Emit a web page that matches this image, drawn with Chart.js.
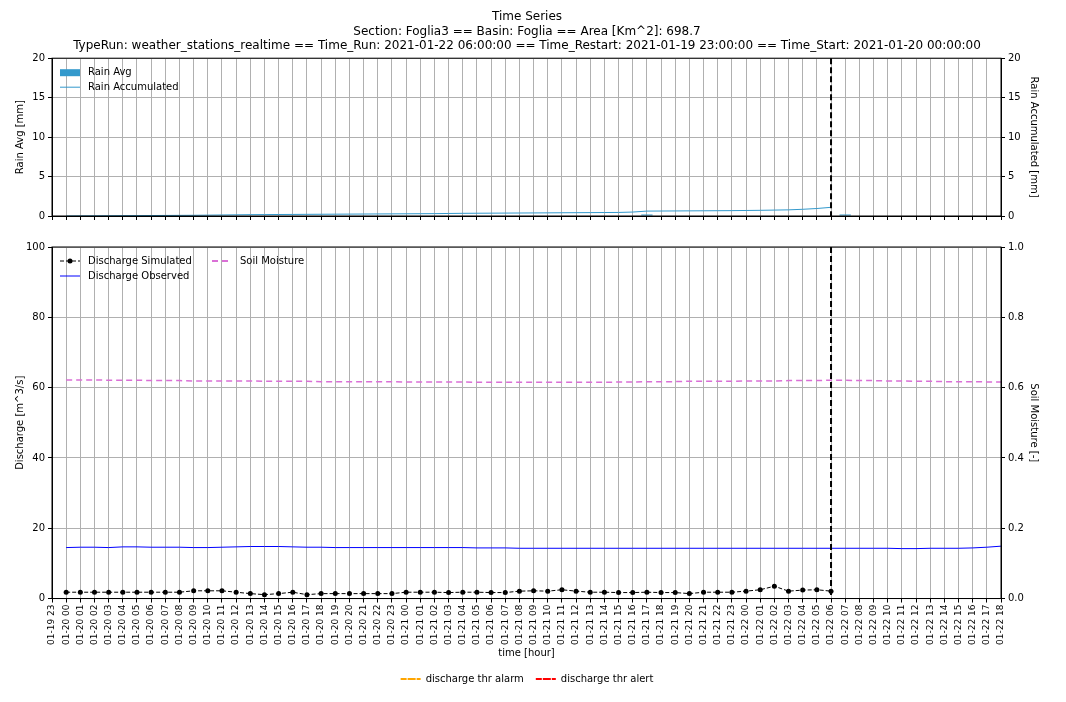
<!DOCTYPE html>
<html>
<head>
<meta charset="utf-8">
<script src="https://cdn.jsdelivr.net/npm/chart.js@4.4.0/dist/chart.umd.min.js"></script>
<style>
  body { margin: 0; background: #fff; }
  #wrap { position: relative; width: 1066px; height: 702px; }
  #top { position: absolute; left: 0; top: 0; }
  #bottom { position: absolute; left: 0; top: 232px; }
</style>
</head>
<body>
<div id="wrap">
  <canvas id="top" width="1066" height="232"></canvas>
  <canvas id="bottom" width="1066" height="470"></canvas>
</div>
<script>
// time axis: 01-19 23 -> 01-22 18, hourly
const days = ['01-19', '01-20', '01-21', '01-22'];
const timeLabels = ['01-19 23'];
for (let d = 1; d < days.length; d++) {
    const last = d === 3 ? 18 : 23;
    for (let h = 0; h <= last; h++) timeLabels.push(days[d] + ' ' + String(h).padStart(2, '0'));
}
const runIndex = 55; // 01-22 06

const rainAvg = [null,0,0,0,0,0,0,0,0,0,0,0,0,0,0,0,0,0,0,0,0,0,0,0,0,0,0,0,0,0,0,0,0,0,0,0,0,0,0,0,0,0,0.2,0,0,0,0,0,0,0,0,0,0,0,0,0,0.2];
const rainAccum = [null,0,0.01,0.02,0.03,0.04,0.05,0.06,0.07,0.08,0.09,0.11,0.13,0.15,0.17,0.18,0.19,0.2,0.21,0.22,0.23,0.24,0.25,0.26,0.27,0.28,0.29,0.3,0.32,0.34,0.35,0.36,0.37,0.38,0.39,0.4,0.41,0.42,0.43,0.44,0.45,0.5,0.62,0.63,0.64,0.65,0.66,0.67,0.68,0.7,0.72,0.75,0.78,0.85,0.95,1.1];

const dischargeSim = [null,
  1.8,1.8,1.8,1.8,1.8,1.8,1.8,1.8,1.8,2.2,2.2,2.2,1.8,1.4,1.1,1.4,1.8,1.1,1.4,1.4,1.4,1.4,1.4,1.4,
  1.8,1.8,1.8,1.7,1.8,1.8,1.7,1.7,2.1,2.2,2.1,2.5,2.1,1.8,1.8,1.7,1.7,1.8,1.7,1.7,1.4,1.8,1.8,1.8,
  2.1,2.5,3.5,2.1,2.4,2.5,2.1];
const dischargeObs = [null,
  14.5,14.6,14.6,14.5,14.7,14.7,14.6,14.6,14.6,14.5,14.5,14.6,14.7,14.8,14.8,14.8,14.7,14.6,14.6,14.5,14.5,14.5,14.5,14.5,
  14.5,14.5,14.5,14.5,14.5,14.4,14.4,14.4,14.3,14.3,14.3,14.3,14.3,14.3,14.3,14.3,14.3,14.3,14.3,14.3,14.3,14.3,14.3,14.3,
  14.3,14.3,14.3,14.3,14.3,14.3,14.3,14.3,14.3,14.3,14.3,14.2,14.2,14.3,14.3,14.3,14.4,14.6,14.9];
const soilMoisture = [null,
  0.622,0.622,0.622,0.621,0.621,0.621,0.620,0.620,0.620,0.619,0.619,0.619,0.619,0.619,0.618,0.618,0.618,0.618,0.617,0.617,0.617,0.617,0.617,0.617,
  0.616,0.616,0.616,0.616,0.616,0.615,0.615,0.615,0.615,0.615,0.615,0.615,0.615,0.615,0.615,0.616,0.616,0.617,0.617,0.617,0.618,0.618,0.618,0.618,
  0.619,0.619,0.619,0.620,0.620,0.620,0.621,0.621,0.620,0.620,0.619,0.619,0.618,0.618,0.617,0.617,0.617,0.616,0.616];

const rainTicks = [0, 5, 10, 15, 20];
const dischargeTicks = [0, 20, 40, 60, 80, 100];

Chart.defaults.font.family = 'DejaVu Sans';
Chart.defaults.font.size = 10;
Chart.defaults.color = '#000';
Chart.defaults.animation = false;

const gridStyle = { color: '#b0b0b0', lineWidth: 1, tickColor: '#000', tickLength: 4 };
const leftPad = 12, rightPad = 24;
const leftWidth = 40, rightWidth = 41;

const runLine = {
    id: 'runLine',
    afterDatasetsDraw(chart) {
        const x = chart.scales.x.getPixelForValue(runIndex);
        const a = chart.chartArea, ctx = chart.ctx;
        ctx.save();
        ctx.strokeStyle = '#000'; ctx.lineWidth = 2; ctx.setLineDash([6, 3]);
        ctx.beginPath(); ctx.moveTo(x, a.top); ctx.lineTo(x, a.bottom); ctx.stroke();
        ctx.restore();
        ctx.save();
        ctx.strokeStyle = '#000'; ctx.lineWidth = 1;
        ctx.strokeRect(a.left, a.top, a.right - a.left, a.bottom - a.top);
        ctx.restore();
    }
};

// inner legend drawn in the plot corner
function innerLegend(columns) {
    return {
        id: 'innerLegend',
        afterDraw(chart) {
            const ctx = chart.ctx, a = chart.chartArea;
            ctx.save();
            ctx.font = '10px DejaVu Sans'; ctx.fillStyle = '#000'; ctx.textBaseline = 'middle';
            columns.forEach(col => {
                col.items.forEach((it, i) => {
                    const x = a.left + col.dx, y = a.top + 14 + i * 15;
                    if (it.type === 'bar') {
                        ctx.fillStyle = it.color; ctx.fillRect(x, y - 3, 20, 7);
                    } else {
                        ctx.strokeStyle = it.color; ctx.lineWidth = it.width || 1;
                        ctx.setLineDash(it.dash || []);
                        ctx.beginPath(); ctx.moveTo(x, y); ctx.lineTo(x + 20, y); ctx.stroke();
                        ctx.setLineDash([]);
                        if (it.dot) { ctx.fillStyle = it.color; ctx.beginPath(); ctx.arc(x + 10, y, 2.5, 0, Math.PI * 2); ctx.fill(); }
                    }
                    ctx.fillStyle = '#000';
                    ctx.fillText(it.text, x + 28, y);
                });
            });
            ctx.restore();
        }
    };
}

new Chart(document.getElementById('top'), {
    data: {
        labels: timeLabels,
        datasets: [
            { type: 'bar', label: 'Rain Avg', data: rainAvg, backgroundColor: '#3399cc', yAxisID: 'y', categoryPercentage: 1, barPercentage: 0.8 },
            { type: 'line', label: 'Rain Accumulated', data: rainAccum, borderColor: '#3399cc', borderWidth: 1, pointRadius: 0, yAxisID: 'y2' }
        ]
    },
    options: {
        responsive: false,
        layout: { padding: { left: leftPad, right: rightPad, top: 0, bottom: 12 } },
        plugins: {
            legend: { display: false },
            tooltip: { enabled: false },
            title: {
                display: true,
                text: ['Time Series', 'Section: Foglia3 == Basin: Foglia == Area [Km^2]: 698.7',
                       'TypeRun: weather_stations_realtime == Time_Run: 2021-01-22 06:00:00 == Time_Restart: 2021-01-19 23:00:00 == Time_Start: 2021-01-20 00:00:00'],
                font: { size: 12, weight: 'normal' }, color: '#000', padding: { top: 10, bottom: 5 }, lineHeight: 1.2
            }
        },
        scales: {
            x: { offset: false, grid: { ...gridStyle, offset: false }, border: { color: '#000' }, ticks: { display: false } },
            y: {
                position: 'left', min: 0, max: 20, afterBuildTicks: s => { s.ticks = rainTicks.map(v => ({ value: v })); },
                grid: gridStyle, border: { color: '#000' },
                title: { display: true, text: 'Rain Avg [mm]', padding: 2 },
                afterFit: s => { s.width = leftWidth; }
            },
            y2: {
                position: 'right', min: 0, max: 20, afterBuildTicks: s => { s.ticks = rainTicks.map(v => ({ value: v })); },
                grid: { drawOnChartArea: false, tickColor: '#000', tickLength: 4 }, border: { color: '#000' },
                title: { display: true, text: 'Rain Accumulated [mm]', padding: 2 },
                afterFit: s => { s.width = rightWidth; }
            }
        }
    },
    plugins: [runLine, innerLegend([{ dx: 8, items: [
        { type: 'bar', color: '#3399cc', text: 'Rain Avg' },
        { type: 'line', color: '#3399cc', text: 'Rain Accumulated' }
    ] }])]
});

new Chart(document.getElementById('bottom'), {
    data: {
        labels: timeLabels,
        datasets: [
            { type: 'line', label: 'Discharge Simulated', data: dischargeSim, borderColor: '#000', backgroundColor: '#000', borderWidth: 1, borderDash: [4, 2], pointRadius: 2.5, pointBorderWidth: 0, yAxisID: 'y' },
            { type: 'line', label: 'Discharge Observed', data: dischargeObs, borderColor: '#0000ff', borderWidth: 1, pointRadius: 0, yAxisID: 'y' },
            { type: 'line', label: 'Soil Moisture', data: soilMoisture, borderColor: '#da70d6', borderWidth: 1.5, borderDash: [6, 4], pointRadius: 0, yAxisID: 'y2' },
            { type: 'line', label: 'discharge thr alarm', data: [], borderColor: '#ffa500', borderWidth: 2, borderDash: [6, 3], yAxisID: 'y' },
            { type: 'line', label: 'discharge thr alert', data: [], borderColor: '#ff0000', borderWidth: 2, borderDash: [6, 3], yAxisID: 'y' }
        ]
    },
    options: {
        responsive: false,
        layout: { padding: { left: leftPad, right: rightPad, top: 15, bottom: 8 } },
        plugins: {
            tooltip: { enabled: false },
            legend: {
                position: 'bottom',
                labels: {
                    filter: it => it.datasetIndex >= 3, boxWidth: 20, boxHeight: 0, color: '#000', padding: 12,
                    font: { size: 10 }
                }
            }
        },
        scales: {
            x: {
                grid: gridStyle, border: { color: '#000' },
                ticks: { autoSkip: false, maxRotation: 90, minRotation: 90, font: { size: 9 }, padding: 2 },
                title: { display: true, text: 'time [hour]', padding: { top: 0, bottom: 3 } }
            },
            y: {
                position: 'left', min: 0, max: 100, afterBuildTicks: s => { s.ticks = dischargeTicks.map(v => ({ value: v })); },
                grid: gridStyle, border: { color: '#000' },
                title: { display: true, text: 'Discharge [m^3/s]', padding: 2 },
                afterFit: s => { s.width = leftWidth; }
            },
            y2: {
                position: 'right', min: 0, max: 1,
                afterBuildTicks: s => { s.ticks = dischargeTicks.map(v => ({ value: v / 100 })); },
                ticks: { callback: v => v.toFixed(1) },
                grid: { drawOnChartArea: false, tickColor: '#000', tickLength: 4 }, border: { color: '#000' },
                title: { display: true, text: 'Soil Moisture [-]', padding: 2 },
                afterFit: s => { s.width = rightWidth; }
            }
        }
    },
    plugins: [runLine, innerLegend([
        { dx: 8, items: [
            { type: 'line', color: '#000', dash: [4, 2], dot: true, text: 'Discharge Simulated' },
            { type: 'line', color: '#0000ff', text: 'Discharge Observed' }
        ] },
        { dx: 160, items: [
            { type: 'line', color: '#da70d6', dash: [6, 4], width: 2, text: 'Soil Moisture' }
        ] }
    ])]
});
</script>
</body>
</html>
